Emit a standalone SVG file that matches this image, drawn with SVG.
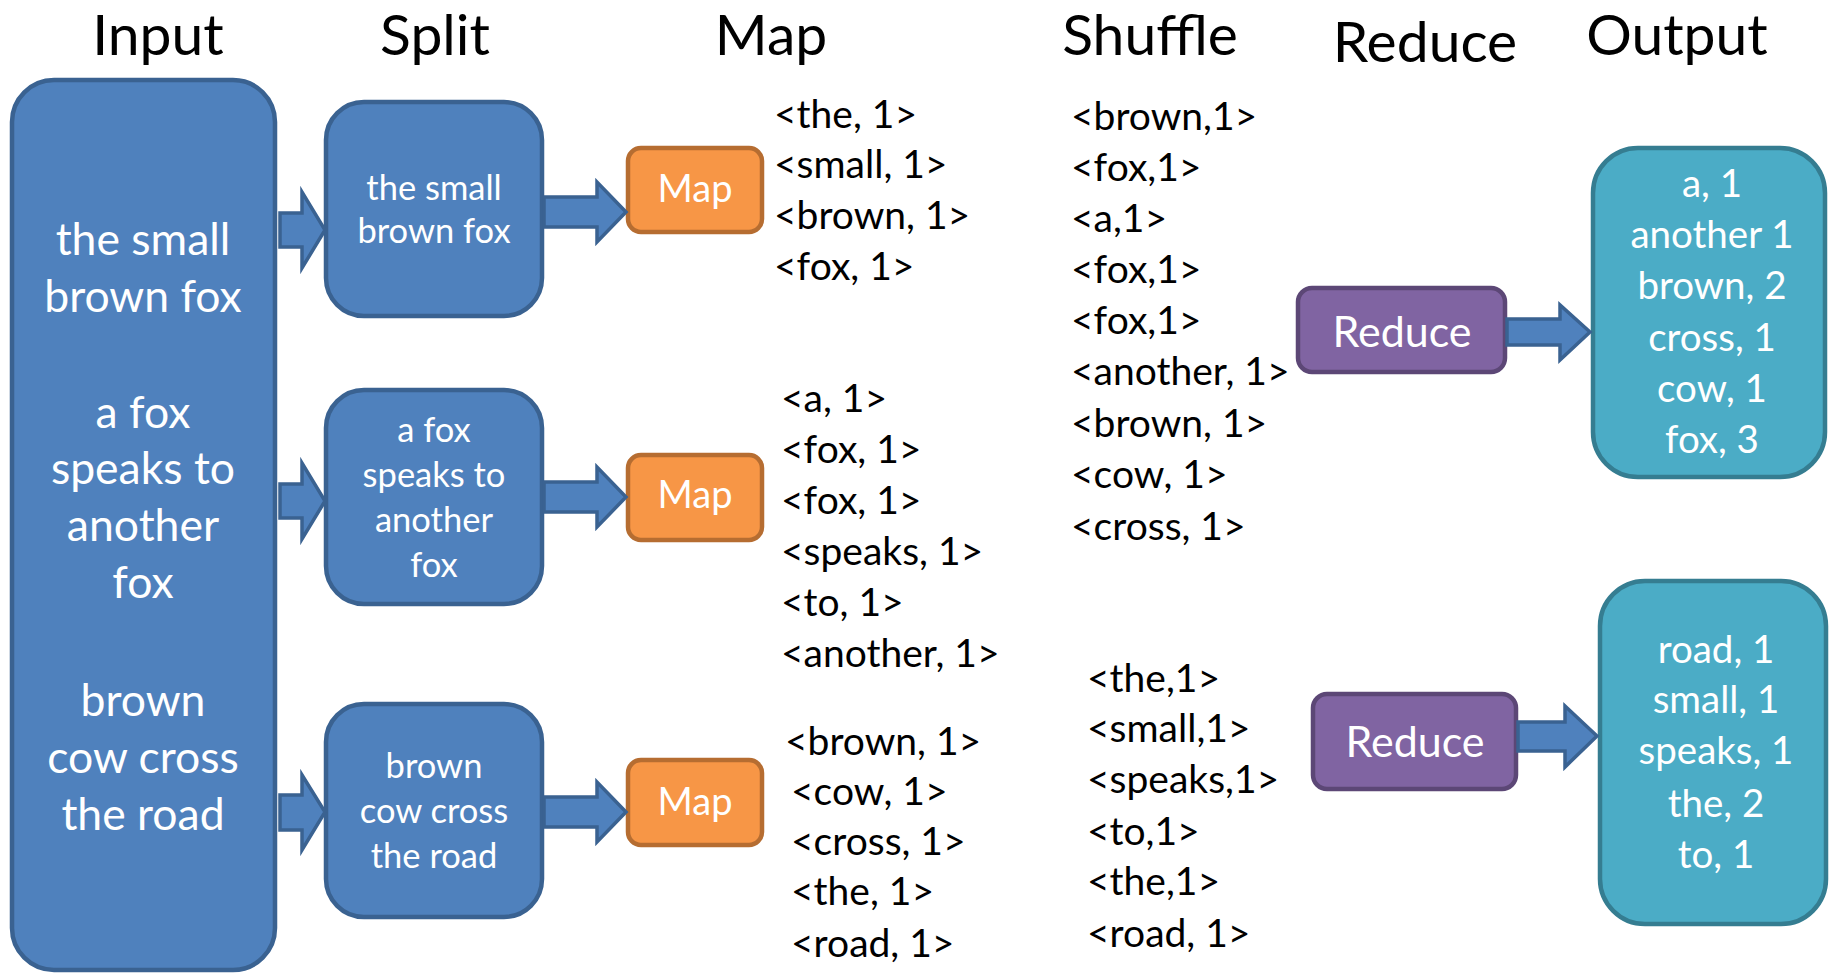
<svg xmlns="http://www.w3.org/2000/svg" width="1829" height="973" viewBox="0 0 1829 973">
<style>
text{font-family:Lato,"Liberation Sans",sans-serif}
.hd{font-size:57px;fill:#000;text-anchor:middle}
.in{font-size:44.5px;fill:#fff;text-anchor:middle}
.sp{font-size:34.5px;fill:#fff;text-anchor:middle}
.mp{font-size:38px;fill:#fff;text-anchor:middle}
.kv{font-size:39px;fill:#000}
.rd{font-size:43px;fill:#fff;text-anchor:middle}
.out{font-size:38.5px;fill:#fff;text-anchor:middle}
.blue{fill:#4F81BD;stroke:#3A6291;stroke-width:4.5}
.orange{fill:#F79646;stroke:#B66D31;stroke-width:4.5}
.purple{fill:#8064A2;stroke:#5C4776;stroke-width:4.5}
.teal{fill:#4BACC6;stroke:#357D91;stroke-width:4.5}
.arr{fill:#4F81BD;stroke:#3A6291;stroke-width:3.5;stroke-linejoin:miter}
</style>
<rect width="1829" height="973" fill="#fff"/>
<g id="headers">
<text class="hd" x="158" y="55">Input</text>
<text class="hd" x="435" y="55">Split</text>
<text class="hd" x="771" y="55">Map</text>
<text class="hd" x="1150" y="55">Shuffle</text>
<text class="hd" x="1425" y="62">Reduce</text>
<text class="hd" x="1677" y="55">Output</text>
</g>
<g id="input">
<rect class="blue" x="12" y="80" width="263" height="890" rx="42"/>
<text class="in" x="143" y="255">the small</text>
<text class="in" x="143" y="312">brown fox</text>
<text class="in" x="143" y="428">a fox</text>
<text class="in" x="143" y="484">speaks to</text>
<text class="in" x="143" y="541">another</text>
<text class="in" x="143" y="598">fox</text>
<text class="in" x="143" y="716">brown</text>
<text class="in" x="143" y="773">cow cross</text>
<text class="in" x="143" y="830">the road</text>
</g>
<g id="split1">
<rect class="blue" x="326" y="102" width="216" height="214" rx="38"/>
<text class="sp" x="434" y="200">the small</text>
<text class="sp" x="434" y="243">brown fox</text>
</g>
<g id="split2">
<rect class="blue" x="326" y="390" width="216" height="214" rx="38"/>
<text class="sp" x="434" y="442">a fox</text>
<text class="sp" x="434" y="487">speaks to</text>
<text class="sp" x="434" y="532">another</text>
<text class="sp" x="434" y="577">fox</text>
</g>
<g id="split3">
<rect class="blue" x="326" y="704" width="216" height="213" rx="38"/>
<text class="sp" x="434" y="778">brown</text>
<text class="sp" x="434" y="823">cow cross</text>
<text class="sp" x="434" y="868">the road</text>
</g>
<g id="map1">
<rect class="orange" x="628" y="148" width="134" height="84" rx="13"/>
<text class="mp" x="695" y="202">Map</text>
</g>
<g id="map2">
<rect class="orange" x="628" y="455" width="134" height="85" rx="13"/>
<text class="mp" x="695" y="508">Map</text>
</g>
<g id="map3">
<rect class="orange" x="628" y="760" width="134" height="85" rx="13"/>
<text class="mp" x="695" y="815">Map</text>
</g>
<g id="map-out1">
<text class="kv" x="774" y="128">&lt;the, 1&gt;</text>
<text class="kv" x="774" y="178">&lt;small, 1&gt;</text>
<text class="kv" x="774" y="229">&lt;brown, 1&gt;</text>
<text class="kv" x="774" y="280">&lt;fox, 1&gt;</text>
</g>
<g id="map-out2">
<text class="kv" x="781" y="412">&lt;a, 1&gt;</text>
<text class="kv" x="781" y="463">&lt;fox, 1&gt;</text>
<text class="kv" x="781" y="514">&lt;fox, 1&gt;</text>
<text class="kv" x="781" y="565">&lt;speaks, 1&gt;</text>
<text class="kv" x="781" y="616">&lt;to, 1&gt;</text>
<text class="kv" x="781" y="667">&lt;another, 1&gt;</text>
</g>
<g id="map-out3">
<text class="kv" x="785" y="755">&lt;brown, 1&gt;</text>
<text class="kv" x="791" y="805">&lt;cow, 1&gt;</text>
<text class="kv" x="791" y="855">&lt;cross, 1&gt;</text>
<text class="kv" x="791" y="905">&lt;the, 1&gt;</text>
<text class="kv" x="791" y="957">&lt;road, 1&gt;</text>
</g>
<g id="shuffle1">
<text class="kv" x="1071" y="130">&lt;brown,1&gt;</text>
<text class="kv" x="1071" y="181">&lt;fox,1&gt;</text>
<text class="kv" x="1071" y="232">&lt;a,1&gt;</text>
<text class="kv" x="1071" y="283">&lt;fox,1&gt;</text>
<text class="kv" x="1071" y="334">&lt;fox,1&gt;</text>
<text class="kv" x="1071" y="385">&lt;another, 1&gt;</text>
<text class="kv" x="1071" y="437">&lt;brown, 1&gt;</text>
<text class="kv" x="1071" y="488">&lt;cow, 1&gt;</text>
<text class="kv" x="1071" y="540">&lt;cross, 1&gt;</text>
</g>
<g id="shuffle2">
<text class="kv" x="1087" y="692">&lt;the,1&gt;</text>
<text class="kv" x="1087" y="742">&lt;small,1&gt;</text>
<text class="kv" x="1087" y="793">&lt;speaks,1&gt;</text>
<text class="kv" x="1087" y="845">&lt;to,1&gt;</text>
<text class="kv" x="1087" y="895">&lt;the,1&gt;</text>
<text class="kv" x="1087" y="947">&lt;road, 1&gt;</text>
</g>
<g id="reduce1">
<rect class="purple" x="1298" y="288" width="207" height="84" rx="14"/>
<text class="rd" x="1402" y="347">Reduce</text>
</g>
<g id="reduce2">
<rect class="purple" x="1313" y="694" width="203" height="95" rx="14"/>
<text class="rd" x="1415" y="757">Reduce</text>
</g>
<g id="output1">
<rect class="teal" x="1593" y="148" width="232" height="329" rx="45"/>
<text class="out" x="1712" y="197">a, 1</text>
<text class="out" x="1712" y="248">another 1</text>
<text class="out" x="1712" y="299">brown, 2</text>
<text class="out" x="1712" y="351">cross, 1</text>
<text class="out" x="1712" y="402">cow, 1</text>
<text class="out" x="1712" y="453">fox, 3</text>
</g>
<g id="output2">
<rect class="teal" x="1600" y="581" width="226" height="343" rx="45"/>
<text class="out" x="1716" y="663">road, 1</text>
<text class="out" x="1716" y="713">small, 1</text>
<text class="out" x="1716" y="764">speaks, 1</text>
<text class="out" x="1716" y="817">the, 2</text>
<text class="out" x="1716" y="868">to, 1</text>
</g>
<g id="connectors">
<path class="arr" d="M280,213 H302 V192 L325,230 L302,268 V247 H280 Z"/>
<path class="arr" d="M280,484 H302 V463 L325,501 L302,539 V518 H280 Z"/>
<path class="arr" d="M280,795 H302 V775 L325,812 L302,850 V830 H280 Z"/>
<path class="arr" d="M544,197 H597 V182 L626,212 L597,242 V227 H544 Z"/>
<path class="arr" d="M544,482 H597 V467 L626,497 L597,527 V512 H544 Z"/>
<path class="arr" d="M544,797 H597 V782 L626,812 L597,842 V827 H544 Z"/>
<path class="arr" d="M1507,319 H1560 V305 L1590,332 L1560,360 V345 H1507 Z"/>
<path class="arr" d="M1518,722 H1565 V706 L1597,736 L1565,767 V751 H1518 Z"/>
</g>
</svg>
